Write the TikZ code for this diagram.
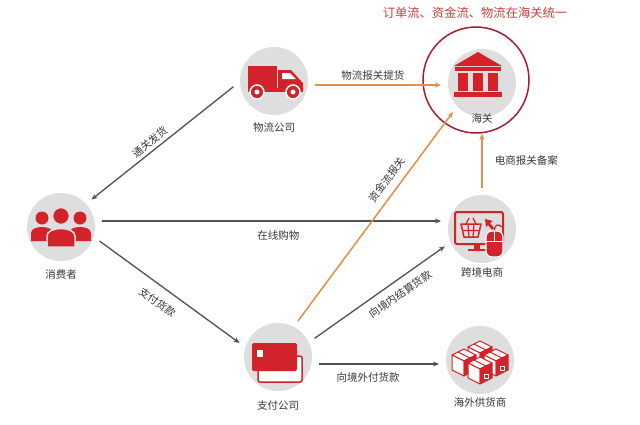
\documentclass[tikz,border=0pt]{standalone}
\usepackage{fontspec}
\setmainfont{Noto Sans CJK SC}
\usetikzlibrary{arrows.meta, positioning, calc}
\definecolor{iconred}{RGB}{210,35,42}
\definecolor{hubgray}{RGB}{222,222,222}
\definecolor{linegray}{RGB}{80,80,80}
\definecolor{flowamber}{RGB}{226,142,72}
\definecolor{ringred}{RGB}{165,30,45}
\definecolor{titlered}{RGB}{205,60,55}
\definecolor{textgray}{RGB}{55,55,55}
\tikzset{
  hub/.style={circle, fill=hubgray, minimum size=68pt, inner sep=0pt, outer sep=7pt},
  caption/.style={font=\fontsize{10.5}{12}\selectfont, text=textgray, inner sep=1pt},
  grayflow/.style={draw=linegray, line width=1.3pt, -{Stealth[length=6pt, width=5pt]}},
  amberflow/.style={draw=flowamber, line width=1.5pt, -{Stealth[length=6pt, width=5pt]}},
}

\begin{document}
\begin{tikzpicture}[x=1pt, y=-1pt]
  \useasboundingbox (0,0) rectangle (640,424);

  % Title
  \node[font=\fontsize{12.3}{14}\selectfont, text=titlered] (title) at (475,13) {订单流、资金流、物流在海关统一};

  % Hubs
  \node[hub] (truck) at (274,81) {};
  \node[hub] (customs) at (482,83) {};
  \node[circle, draw=ringred, line width=1.5pt, minimum size=106pt, inner sep=0pt] (ring) at (476,80) {};
  \node[hub] (consumer) at (61,227) {};
  \node[hub] (ecom) at (482,229) {};
  \node[hub] (pay) at (278,357) {};
  \node[hub] (supplier) at (480,360) {};

  % Captions
  \node[caption, below=-1pt of truck] (trucklabel) {物流公司};
  \node[caption] (customslabel) at (482,118) {海关};
  \node[caption, below=0pt of consumer] (consumerlabel) {消费者};
  \node[caption, below=-4pt of ecom] (ecomlabel) {跨境电商};
  \node[caption, below=1pt of pay] (paylabel) {支付公司};
  \node[caption, below=-5pt of supplier] (supplierlabel) {海外供货商};

  % Truck
  \begin{scope}[shift={(truck)}]
    \fill[iconred] (-26,-15) rectangle (3,9);
    \fill[iconred] (4,-11) -- (17,-11) -- (27,0) -- (29,2) -- (29,10) -- (4,10) -- cycle;
    \fill[white] (8,-8) -- (16,-8) -- (22,-2) -- (8,-2) -- cycle;
    \fill[iconred] (-26,7) rectangle (29,11);
    \foreach \wx in {-17,19} {
      \filldraw[fill=iconred, draw=white, line width=1.5pt] (\wx,11) circle (7);
      \fill[white] (\wx,11) circle (2.5);
    }
  \end{scope}

  % Customs building
  \begin{scope}[shift={(customs)}]
    \fill[iconred] (-28,-17) -- (-4,-31) -- (20,-17) -- cycle;
    \fill[iconred] (-27,-16) rectangle (19,-12);
    \foreach \cx in {-19,-4,11}
      \fill[iconred] (\cx-5,-10) rectangle (\cx+5,8);
    \fill[iconred] (-28,9) rectangle (20,14);
  \end{scope}

  % Consumers
  \begin{scope}[shift={(consumer)}]
    \foreach \sx in {-19,19} {
      \fill[iconred] (\sx,-9) circle (6.5);
      \fill[iconred] (\sx-11,14) -- (\sx-11,6) .. controls (\sx-11,-2) and (\sx+11,-2) .. (\sx+11,6) -- (\sx+11,14) -- cycle;
    }
    \filldraw[fill=iconred, draw=hubgray, line width=1.5pt] (0,-11) circle (8.5);
    \filldraw[fill=iconred, draw=hubgray, line width=1.5pt] (-14,20) -- (-14,9) .. controls (-14,-1) and (14,-1) .. (14,9) -- (14,20) -- cycle;
  \end{scope}

  % Online shop
  \begin{scope}[shift={(ecom)}]
    \draw[iconred, line width=2pt, rounded corners=2pt] (-27,-17) rectangle (21,15);
    \fill[iconred] (-8,15) rectangle (-2,20);
    \fill[iconred] (-14,20) rectangle (4,22);
    \draw[iconred, line width=1.5pt, line join=round] (-21,-5) -- (-1,-5) -- (-4,8) -- (-18,8) -- cycle;
    \draw[iconred, line width=1.2pt] (-16,-5) -- (-13,-11) (-6,-5) -- (-9,-11)
      (-14,-5) -- (-13,8) (-8,-5) -- (-9,8) (-20,1.5) -- (-2,1.5);
    \fill[iconred] (3,-10) -- (4,-2) -- (6,-4) -- (10,1) -- (12,-1) -- (8,-6) -- (11,-8) -- cycle;
    \draw[iconred, line width=1.2pt] (12.5,2) .. controls (12,-4) and (16,-6) .. (20,-2);
    \filldraw[fill=iconred, draw=white, line width=1.2pt, rounded corners=6pt] (4,2) rectangle (21,28);
    \draw[white, line width=1pt] (12.5,2) -- (12.5,12) (4,12) -- (21,12);
  \end{scope}

  % Payment cards
  \begin{scope}[shift={(pay)}]
    \filldraw[fill=white, draw=iconred, line width=1.5pt, rounded corners=2pt] (-20,-1) rectangle (24,25);
    \fill[iconred, rounded corners=2pt] (-26,-14) rectangle (19,14);
    \fill[white] (-21,-7) rectangle (-15,0);
  \end{scope}

  % Supplier crates
  \begin{scope}[shift={(supplier)}]
    \foreach \bx/\by in {0/-13, -16/-5, 16/-5, 0/3} {
      \filldraw[fill=white, draw=iconred, line width=1pt, line join=round] (\bx-12,\by) -- (\bx,\by-6) -- (\bx+12,\by) -- (\bx,\by+6) -- cycle;
      \draw[iconred, line width=1pt] (\bx-6,\by-3) -- (\bx+6,\by+3);
      \filldraw[fill=white, draw=iconred, line width=1pt, line join=round] (\bx-12,\by) -- (\bx,\by+6) -- (\bx,\by+21) -- (\bx-12,\by+15) -- cycle;
      \filldraw[fill=iconred, draw=iconred, line width=1pt, line join=round] (\bx,\by+6) -- (\bx+12,\by) -- (\bx+12,\by+15) -- (\bx,\by+21) -- cycle;
      \draw[white, line width=0.8pt] (\bx+4,\by+11) rectangle (\bx+8,\by+15);
    }
  \end{scope}

  % Flows
  \coordinate (ship) at ([yshift=-4pt]truck.east);
  \draw[amberflow] (ship) -- node[caption, above=3pt, pos=0.46] (shiplabel) {物流报关提货} (ship -| customs.west);
  \draw[grayflow] (truck.188) -- node[caption, sloped, above=2pt, pos=0.55] (deliverlabel) {通关发货} (consumer.42);
  \coordinate (shop) at ([yshift=6pt]consumer.east);
  \draw[grayflow] (shop) -- node[caption, below=8pt, pos=0.52] (shoplabel) {在线购物} (shop -| ecom.west);
  \draw[grayflow] (consumer.-20) -- node[caption, sloped, below=9pt, pos=0.48] (paylabel2) {支付货款} (pay.160);
  \draw[grayflow] (pay.27) -- node[caption, sloped, below=7pt, pos=0.6] (settlelabel) {向境内结算货款} (ecom.205);
  \draw[amberflow] (pay.61) -- node[caption, sloped, above=6pt, pos=0.64] (fundlabel) {资金流报关} (customs.225);
  \draw[amberflow] (ecom.north) -- node[caption, right=11pt, pos=0.5] (filelabel) {电商报关备案} (ecom.north |- ring.south);
  \coordinate (export) at ([yshift=-7pt]pay.east);
  \draw[grayflow] (export) -- node[caption, below=7pt, pos=0.41] (exportlabel) {向境外付货款} (export -| supplier.west);
\end{tikzpicture}
\end{document}
